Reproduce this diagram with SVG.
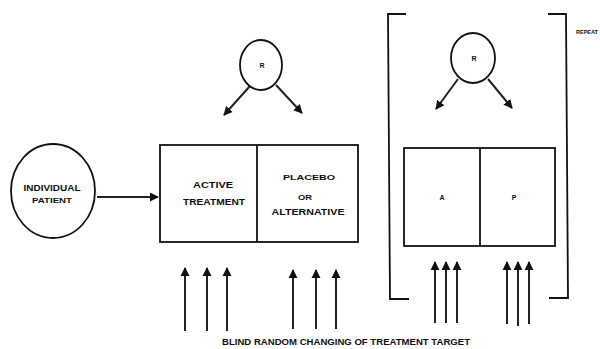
<svg xmlns="http://www.w3.org/2000/svg" width="600" height="349" viewBox="0 0 600 349">
<defs>
<marker id="ah" viewBox="0 0 10 10" refX="9" refY="5" markerWidth="4.5" markerHeight="5" orient="auto" markerUnits="strokeWidth">
<path d="M0,0 L10,5 L0,10 z" fill="#111"/>
</marker>
<style>
.sh{fill:#fff;stroke:#111;stroke-width:1.8}
.ln{fill:none;stroke:#111;stroke-width:1.8}
.ar{fill:none;stroke:#222;stroke-width:2;marker-end:url(#ah)}
.t{font-family:"Liberation Sans",Arial,sans-serif;font-size:8.5px;font-weight:bold;fill:#111;text-anchor:middle}
.s7{font-size:7px}
.s5{font-size:5.5px;text-anchor:start}
</style>
</defs>
<rect width="600" height="349" fill="#fff"/>
<g id="connectors">
<line class="ar" x1="97" y1="197" x2="158" y2="197"/>
<line class="ar" x1="250" y1="86" x2="224" y2="115"/>
<line class="ar" x1="276" y1="85" x2="302" y2="113"/>
<line class="ar" x1="458" y1="79" x2="436" y2="109"/>
<line class="ar" x1="488" y1="79" x2="512" y2="108"/>
<line class="ar" x1="185" y1="331" x2="185" y2="268"/>
<line class="ar" x1="207" y1="331" x2="207" y2="268"/>
<line class="ar" x1="227" y1="331" x2="227" y2="268"/>
<line class="ar" x1="293" y1="329" x2="293" y2="270"/>
<line class="ar" x1="316" y1="329" x2="316" y2="270"/>
<line class="ar" x1="336" y1="329" x2="336" y2="270"/>
<line class="ar" x1="435" y1="323" x2="435" y2="262"/>
<line class="ar" x1="446" y1="323" x2="446" y2="262"/>
<line class="ar" x1="457" y1="323" x2="457" y2="262"/>
<line class="ar" x1="507" y1="324" x2="507" y2="262"/>
<line class="ar" x1="518" y1="326" x2="518" y2="262"/>
<line class="ar" x1="529" y1="324" x2="529" y2="262"/>
</g>
<g id="patient">
<ellipse class="sh" cx="53" cy="191" rx="42" ry="47"/>
<text class="t" x="52" y="191" textLength="57" lengthAdjust="spacingAndGlyphs">INDIVIDUAL</text>
<text class="t s7" x="52" y="203" textLength="40" lengthAdjust="spacingAndGlyphs">PATIENT</text>
</g>
<g id="r1">
<ellipse class="sh" cx="261" cy="65" rx="21" ry="25"/>
<text class="t s7" x="262" y="68">R</text>
</g>
<g id="box1">
<rect class="sh" x="160" y="145" width="198" height="97"/>
<line class="ln" x1="257" y1="145" x2="257" y2="242"/>
<text class="t" x="213" y="188" textLength="40" lengthAdjust="spacingAndGlyphs">ACTIVE</text>
<text class="t" x="214" y="205" textLength="62" lengthAdjust="spacingAndGlyphs">TREATMENT</text>
<text class="t s7" x="309" y="180" textLength="52" lengthAdjust="spacingAndGlyphs">PLACEBO</text>
<text class="t s7" x="305" y="200" textLength="14" lengthAdjust="spacingAndGlyphs">OR</text>
<text class="t" x="308" y="215" textLength="73" lengthAdjust="spacingAndGlyphs">ALTERNATIVE</text>
</g>
<g id="bracket">
<polyline class="ln" points="406,14 388,14 390,299 409,299"/>
<polyline class="ln" points="548,14 566,14 568,298 549,298"/>
<text class="t s5" x="576" y="34">REPEAT</text>
</g>
<g id="r2">
<ellipse class="sh" cx="473" cy="58" rx="22" ry="25"/>
<text class="t s7" x="474" y="61">R</text>
</g>
<g id="box2">
<rect class="sh" x="404" y="148" width="151" height="98"/>
<line class="ln" x1="480" y1="148" x2="480" y2="246"/>
<text class="t s7" x="442" y="200">A</text>
<text class="t s7" x="514" y="200">P</text>
</g>
<g id="caption">
<text class="t" x="346" y="345" textLength="248" lengthAdjust="spacingAndGlyphs">BLIND RANDOM CHANGING OF TREATMENT TARGET</text>
</g>
</svg>
